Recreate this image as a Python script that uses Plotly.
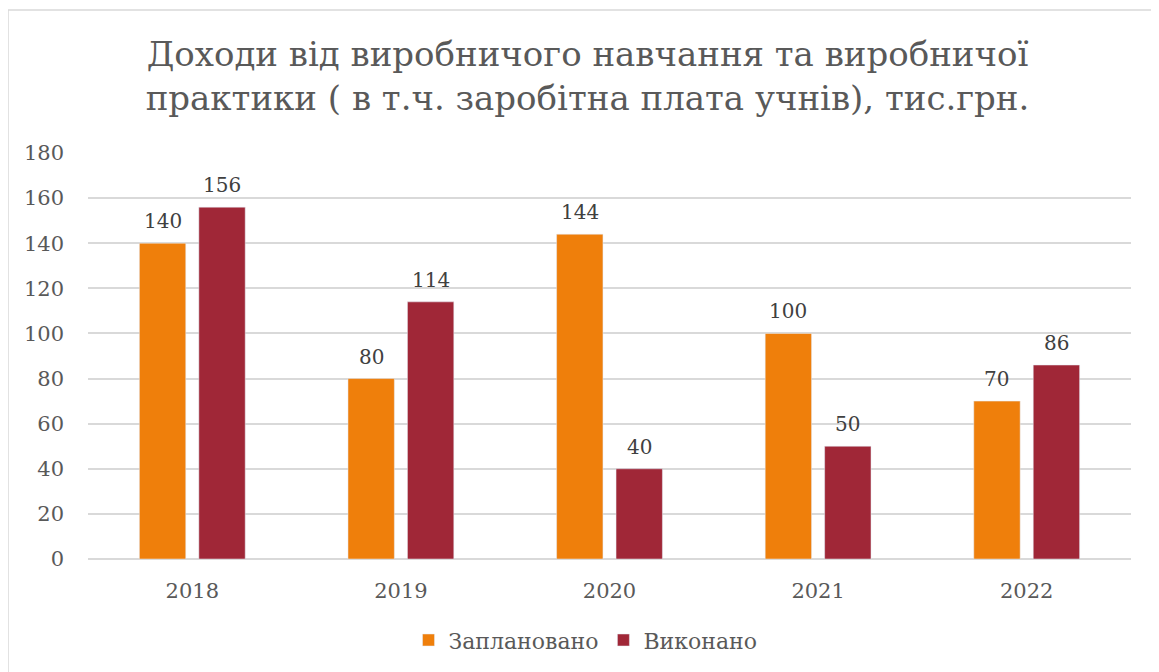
import plotly.graph_objects as go

years = ["2018", "2019", "2020", "2021", "2022"]
planned = [140, 80, 144, 100, 70]
done = [156, 114, 40, 50, 86]
series_names = ["Заплановано", "Виконано"]
title_text = "Доходи від виробничого навчання та виробничої<br>практики ( в т.ч. заробітна плата учнів), тис.грн."

FONT = "DejaVu Serif"
TXT = "#595959"
LBL = "#404040"
COLORS = ["#EF7F0B", "#A02737"]

fig = go.Figure()
for name, vals, col in zip(series_names, [planned, done], COLORS):
    fig.add_trace(go.Bar(x=years, y=vals, name=name, marker_color=col))

# data labels placed through the axes' scales (category index on the x axis)
slot_px = 59.5
annotations = []
for i, vals in enumerate([planned, done]):
    for j, v in enumerate(vals):
        annotations.append(dict(x=j, y=v, xref="x", yref="y", text=str(v), showarrow=False,
                                xshift=(i - 0.5) * slot_px, yshift=8, yanchor="bottom",
                                font=dict(family=FONT, size=20, color=LBL)))

fig.update_layout(
    width=1159, height=672,
    margin=dict(l=80, r=36, t=145, b=121),
    paper_bgcolor="white", plot_bgcolor="white",
    barmode="group", bargap=0.43, bargroupgap=0.22,
    font=dict(family=FONT, color=TXT, size=20),
    title=dict(text=title_text, x=0.5, xanchor="center", y=0.914, yanchor="middle",
               font=dict(family=FONT, size=34, color=TXT)),
    legend=dict(orientation="h", x=0.477, xanchor="center", y=-0.2, yanchor="middle",
                font=dict(family=FONT, size=22, color=TXT), itemwidth=30),
    yaxis=dict(range=[0, 180], dtick=20, showgrid=True, gridcolor="#D9D9D9", gridwidth=1.5,
               zeroline=True, zerolinecolor="#D9D9D9", zerolinewidth=1.5,
               showline=False, ticks="", ticklabelstandoff=23,
               tickfont=dict(family=FONT, size=21, color=TXT)),
    xaxis=dict(type="category", range=[-0.5, len(years) - 0.5], showline=False, ticks="",
               ticklabelstandoff=17, tickfont=dict(family=FONT, size=21, color=TXT)),
    annotations=annotations,
    shapes=[dict(type="rect", xref="paper", yref="paper",
                 x0=(0 - 80) / 1043, x1=1.06, y0=-0.4, y1=(551 - 2) / 406,
                 line=dict(color="#D9D9D9", width=1.5), fillcolor="rgba(0,0,0,0)", layer="below")],
)

fig.write_html("out.html")
